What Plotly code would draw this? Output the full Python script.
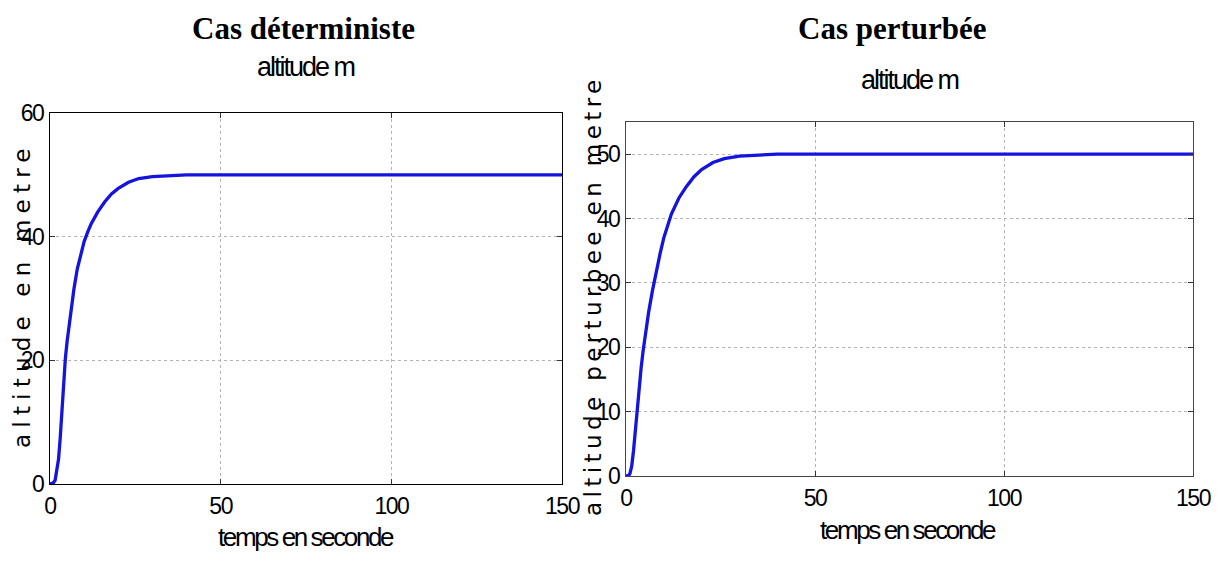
import plotly.graph_objects as go

# page body has an 8px margin, so the figure is drawn 8px in from the window edge
OFF = 8
W, H = 1220 - 2 * OFF, 563 - 2 * OFF

# ---- data ----
t_det = [0, 0.5, 1, 1.5, 2, 2.5, 3, 3.5, 4, 4.5, 5, 6, 7, 8, 9, 10, 11, 12, 14, 16, 18, 20, 23, 26, 30, 35, 40, 50, 75, 100, 125, 150]
y_det = [0, 0.05, 0.2, 0.6, 2.0, 4.0, 7.5, 12.0, 16.5, 20.3, 23.0, 27.5, 31.5, 34.8, 37.3, 39.2, 40.7, 42.0, 44.0, 45.6, 46.9, 47.8, 48.8, 49.4, 49.7, 49.9, 50.0, 50.0, 50.0, 50.0, 50.0, 50.0]

t_pert = [0, 0.5, 1, 1.5, 2, 2.5, 3, 3.5, 4, 4.5, 5, 6, 7, 8, 9, 10, 11, 12, 14, 16, 18, 20, 23, 26, 30, 35, 40, 50, 75, 100, 125, 150]
y_pert = [0, 0.05, 0.3, 1.5, 4.0, 7.5, 10.8, 14.0, 16.8, 19.3, 21.5, 25.5, 28.8, 31.8, 34.5, 37.0, 39.0, 40.7, 43.2, 45.0, 46.5, 47.6, 48.7, 49.3, 49.7, 49.9, 50.0, 50.0, 50.0, 50.0, 50.0, 50.0]

x_ticks = [0, 50, 100, 150]
y_ticks_det = [0, 20, 40, 60]
y_ticks_pert = [0, 10, 20, 30, 40, 50]

main_titles = ["Cas déterministe", "Cas perturbée"]
sub_title = "altitude m"
x_title = "temps en seconde"
y_titles = ["altitude en metre", "altitude perturbee en metre"]

SANS = "Liberation Sans, Arial, sans-serif"
BLUE = "#1414dc"


def px(x):
    return (x - OFF) / W


def py(y):
    return 1 - (y - OFF) / H


def spaced(s, ls):
    return '<span style="letter-spacing:%spx">%s</span>' % (ls, s)


def tick_text(vals):
    return [spaced(str(v), -1.5) for v in vals]


fig = go.Figure()
fig.add_trace(go.Scatter(x=t_det, y=y_det, mode="lines", line=dict(color=BLUE, width=3.3),
                         xaxis="x", yaxis="y", showlegend=False))
fig.add_trace(go.Scatter(x=t_pert, y=y_pert, mode="lines", line=dict(color=BLUE, width=3.3),
                         xaxis="x2", yaxis="y2", showlegend=False))

axis_common = dict(showgrid=True, gridcolor="#b4b4b4", griddash="dot", gridwidth=1,
                   zeroline=False, showline=True, mirror="allticks", ticks="inside",
                   ticklen=5, tickcolor="#333", automargin=False, ticklabelstandoff=1,
                   tickfont=dict(family=SANS, size=23, color="black"))

fig.update_layout(
    width=W, height=H, margin=dict(l=0, r=0, t=0, b=0, autoexpand=False),
    paper_bgcolor="white", plot_bgcolor="white",
    xaxis=dict(domain=[px(50), px(562)], range=[0, 150], tickvals=x_ticks, ticktext=tick_text(x_ticks),
               anchor="y", linecolor="black", **axis_common),
    yaxis=dict(domain=[py(484), py(113)], range=[0, 60], tickvals=y_ticks_det, ticktext=tick_text(y_ticks_det),
               anchor="x", linecolor="black", **axis_common),
    xaxis2=dict(domain=[px(626), px(1193)], range=[0, 150], tickvals=x_ticks, ticktext=tick_text(x_ticks),
                anchor="y2", linecolor="#444", **axis_common),
    yaxis2=dict(domain=[py(476), py(122)], range=[0, 55], tickvals=y_ticks_pert, ticktext=tick_text(y_ticks_pert),
                anchor="x2", linecolor="#444", **axis_common),
)

ann = []
# main bold titles
ann.append(dict(x=px(303), y=py(28), text="<b>%s</b>" % main_titles[0],
                font=dict(family="Liberation Serif, Times New Roman, serif", size=31, color="black")))
ann.append(dict(x=px(892), y=py(28), text="<b>%s</b>" % main_titles[1],
                font=dict(family="Liberation Serif, Times New Roman, serif", size=31, color="black")))
# subplot titles
ann.append(dict(x=px(306), y=py(67), text=spaced(sub_title, -2), font=dict(family=SANS, size=27, color="black")))
ann.append(dict(x=px(910), y=py(80), text=spaced(sub_title, -2), font=dict(family=SANS, size=27, color="black")))
# x-axis titles
ann.append(dict(x=px(306), y=py(537), text=spaced(x_title, -2.4), font=dict(family=SANS, size=26, color="black")))
ann.append(dict(x=px(908), y=py(530), text=spaced(x_title, -2.4), font=dict(family=SANS, size=26, color="black")))
# y-axis titles
ann.append(dict(x=px(22), y=py(295), text=spaced(y_titles[0], 6.2), textangle=-90,
                font=dict(family="DejaVu Sans, sans-serif", size=23, color="black")))
ann.append(dict(x=px(593), y=py(296), text=spaced(y_titles[1], 4.4), textangle=-90,
                font=dict(family="DejaVu Sans, sans-serif", size=23, color="black")))

for a in ann:
    a.update(xref="paper", yref="paper", showarrow=False, xanchor="center", yanchor="middle")
fig.update_layout(annotations=ann)

fig.write_html("out.html")
